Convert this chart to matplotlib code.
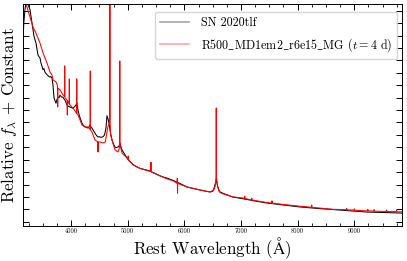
import numpy as np
import matplotlib
matplotlib.use("Agg")
import matplotlib.pyplot as plt

sn_wave = [3158, 3170, 3188, 3205, 3222, 3240, 3258, 3276, 3292, 3310, 3329, 3345,
           3362, 3382, 3400, 3417, 3435, 3453, 3470, 3490, 3506, 3522, 3541, 3558,
           3576, 3600, 3629, 3645, 3664, 3682, 3692, 3700, 3718, 3735, 3752, 3770,
           3788, 3806, 3830, 3859, 3876, 3894, 3912, 3929, 3955, 3982, 4010, 4035,
           4060, 4085, 4106, 4123, 4150, 4175, 4194, 4220, 4247, 4275, 4300, 4318,
           4335, 4352, 4370, 4395, 4423, 4450, 4476, 4500, 4530, 4564, 4585, 4600,
           4618, 4635, 4652, 4670, 4695, 4723, 4750, 4776, 4800, 4829, 4850, 4864,
           4880, 4900, 4945, 4988, 5040, 5094, 5150, 5217, 5280, 5341, 5390, 5429,
           5500, 5570, 5630, 5694, 5780, 5870, 5960, 6047, 6160, 6276, 6370, 6453,
           6500, 6520, 6541, 6555, 6565, 6578, 6590, 6610, 6629, 6700, 6780, 6858,
           7000, 7158, 7300, 7458, 7600, 7740, 7900, 8040, 8330, 8623, 8920, 9223,
           9520, 9835]
sn_flux = [1.52, 1.62, 1.71, 1.77, 1.80, 1.75, 1.73, 1.71, 1.66, 1.60, 1.55, 1.50,
           1.47, 1.44, 1.39, 1.345, 1.33, 1.32, 1.28, 1.25, 1.225, 1.235, 1.205, 1.195,
           1.185, 1.175, 1.165, 1.17, 1.16, 1.10, 1.04, 1.00, 0.975, 0.955, 0.985, 1.005,
           1.00, 1.02, 1.005, 1.005, 0.99, 0.98, 0.96, 0.94, 0.93, 0.925, 0.92, 0.915,
           0.925, 0.94, 0.955, 0.90, 0.85, 0.82, 0.795, 0.775, 0.765, 0.76, 0.755, 0.765,
           0.78, 0.765, 0.755, 0.735, 0.715, 0.695, 0.683, 0.685, 0.68, 0.685, 0.695, 0.715,
           0.76, 0.855, 0.83, 0.795, 0.72, 0.66, 0.625, 0.602, 0.598, 0.602, 0.612, 0.635,
           0.605, 0.578, 0.545, 0.514, 0.485, 0.46, 0.445, 0.43, 0.423, 0.417, 0.41, 0.40,
           0.385, 0.37, 0.36, 0.352, 0.337, 0.32, 0.30, 0.28, 0.268, 0.256, 0.247, 0.24,
           0.245, 0.262, 0.296, 0.32, 0.336, 0.31, 0.28, 0.255, 0.24, 0.226, 0.212, 0.199,
           0.188, 0.175, 0.163, 0.151, 0.143, 0.135, 0.127, 0.119, 0.108, 0.098, 0.088, 0.078,
           0.074, 0.070]

# model spectrum R500_MD1em2_r6e15_MG at t = 4 d
model_wave = [3158, 3223, 3276, 3329, 3382, 3453, 3506, 3576, 3629, 3664, 3682, 3735,
              3760, 3765, 3770, 3806, 3859, 3885, 3889, 3893, 3929, 3935, 3940, 3966,
              3970, 3974, 4035, 4097, 4101, 4105, 4123, 4194, 4247, 4300, 4336, 4340,
              4344, 4370, 4423, 4471, 4476, 4481, 4511, 4564, 4606, 4650, 4670, 4682,
              4686, 4690, 4700, 4723, 4776, 4829, 4850, 4857, 4861, 4865, 4875, 4900,
              4988, 5006, 5010, 5014, 5094, 5217, 5341, 5407, 5411, 5415, 5429, 5570,
              5694, 5800, 5872, 5876, 5880, 5884, 5960, 6047, 6276, 6453, 6520, 6545,
              6559, 6563, 6567, 6581, 6610, 6629, 6700, 6858, 7061, 7065, 7069, 7158,
              7186, 7190, 7194, 7458, 7543, 7547, 7551, 7740, 8040, 8244, 8248, 8252,
              8623, 8860, 8864, 8868, 8996, 9000, 9004, 9223, 9234, 9238, 9242, 9346,
              9350, 9354, 9566, 9570, 9574, 9742, 9746, 9750, 9835]
model_flux = [1.81, 1.73, 1.65, 1.57, 1.52, 1.44, 1.36, 1.28, 1.207, 1.183, 1.143, 1.127,
              1.10, 0.925, 1.078, 1.062, 1.022, 1.01, 1.256, 1.00, 0.981, 0.86, 0.975, 0.95,
              1.151, 0.945, 0.917, 0.875, 1.151, 0.87, 0.86, 0.78, 0.764, 0.764, 0.745, 1.215,
              0.74, 0.723, 0.659, 0.645, 0.562, 0.643, 0.643, 0.635, 0.643, 0.764, 0.79, 0.82,
              2.00, 0.80, 0.70, 0.659, 0.578, 0.562, 0.585, 0.62, 1.296, 0.62, 0.60, 0.554,
              0.514, 0.50, 0.53, 0.497, 0.46, 0.43, 0.413, 0.405, 0.48, 0.40, 0.40, 0.37,
              0.345, 0.33, 0.31, 0.35, 0.23, 0.31, 0.295, 0.28, 0.256, 0.24, 0.255, 0.29,
              0.36, 0.917, 0.36, 0.30, 0.25, 0.235, 0.222, 0.20, 0.19, 0.207, 0.188, 0.178,
              0.176, 0.19, 0.175, 0.155, 0.15, 0.168, 0.149, 0.14, 0.125, 0.117, 0.135, 0.116,
              0.10, 0.097, 0.107, 0.096, 0.094, 0.104, 0.093, 0.088, 0.087, 0.10, 0.087, 0.086,
              0.097, 0.085, 0.083, 0.093, 0.082, 0.081, 0.09, 0.08, 0.08]

xtick_values = [4000, 5000, 6000, 7000, 8000, 9000]

plt.rcParams['font.family'] = ['cmr10', 'DejaVu Serif']
plt.rcParams['mathtext.fontset'] = 'cm'
plt.rcParams['axes.unicode_minus'] = False
plt.rcParams['axes.formatter.use_mathtext'] = True

fig = plt.figure(figsize=(4.07, 2.61), dpi=100)
ax = fig.add_axes([23.3 / 407, 1 - 225.7 / 261, (401.7 - 23.3) / 407, (225.7 - 4.0) / 261])

# cmr10 maps "_" to a dot accent; take the underscore from the typewriter font
us = r'$\mathtt{\_}$'
model_name = us.join(['R500', 'MD1em2', 'r6e15', 'MG'])

ax.plot(sn_wave, sn_flux, color='black', lw=0.75, label='SN 2020tlf')
ax.plot(model_wave, model_flux, color='red', lw=0.75,
        label=model_name + r' ($t = 4$ d)')

ax.set_xlim(3158, 9836)
ax.set_ylim(-0.032, 1.755)

ax.set_xticks(xtick_values)
ax.set_xticklabels([str(v) for v in xtick_values])
ax.xaxis.set_minor_locator(matplotlib.ticker.MultipleLocator(250))
ax.set_yticks(np.arange(0, 1.75, 0.1))
ax.set_yticklabels([])

ax.tick_params(axis='both', which='major', direction='in', top=True, right=True,
               length=4, width=0.7, labelsize=4.7, pad=2)
ax.tick_params(axis='both', which='minor', direction='in', top=True, right=True,
               length=2.5, width=0.6)
for spine in ax.spines.values():
    spine.set_linewidth(0.7)

ax.set_xlabel(r'Rest Wavelength ($\mathrm{\AA}$)', fontsize=12.2, labelpad=1)
ax.set_ylabel(r'Relative $f_\lambda$ + Constant', fontsize=12.2, labelpad=1)

leg = ax.legend(loc='upper right', fontsize=8.7, bbox_to_anchor=(0.988, 0.964),
                borderaxespad=0.0, handlelength=2.4, handletextpad=1.0,
                labelspacing=0.55, borderpad=0.42)
for lh in leg.get_lines():
    lh.set_alpha(0.35)
    lh.set_linewidth(1.2)

fig.savefig('out.png', dpi=100)
